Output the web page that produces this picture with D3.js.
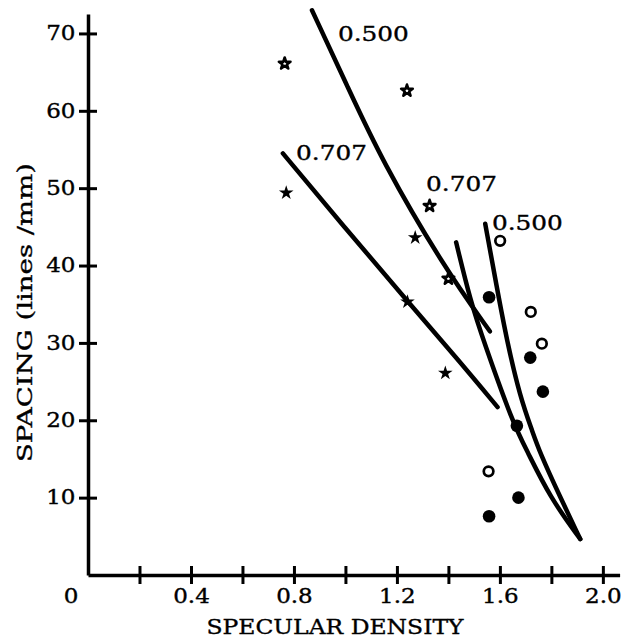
<!DOCTYPE html>
<html>
<head>
<meta charset="utf-8">
<script src="https://cdn.jsdelivr.net/npm/d3@7"></script>
<style>
    body { margin: 0; background: #fff; }
    text { font-family: 'DejaVu Serif', serif; fill: #000; stroke: #000; stroke-width: 0.35px; }
</style>
</head>
<body>
<div id="chart"></div>
<script>
// data (specular density, spacing in lines/mm)
const openStars = [[0.764, 66.1], [1.239, 62.6], [1.327, 47.7], [1.400, 38.3]]
const filledStars = [[0.770, 49.4], [1.271, 43.6], [1.241, 35.3], [1.388, 26.1]]
const openCircles = [[1.601, 43.2], [1.720, 34.0], [1.763, 29.9], [1.556, 13.4]]
const filledCircles = [[1.558, 35.9], [1.718, 28.1], [1.767, 23.7], [1.666, 19.3], [1.672, 10.0], [1.558, 7.6]]

// fitted curves, labelled by their parameter
const curveLong500 = [[0.870, 73.0], [1.010, 63.0], [1.141, 53.6], [1.381, 39.9], [1.561, 31.5]]
const curveLong707 = [[0.757, 54.5], [1.000, 44.8], [1.241, 35.4], [1.446, 27.5], [1.591, 21.7]]
const curveSteep707 = [[1.430, 43.0], [1.485, 35.5], [1.536, 30.3], [1.652, 19.5], [1.705, 16.1], [1.795, 10.0], [1.912, 4.65]]
const curveSteep500 = [[1.543, 45.4], [1.588, 37.2], [1.627, 30.3], [1.679, 22.95], [1.726, 18.6], [1.753, 16.0], [1.835, 10.0], [1.912, 4.65]]

const curveLabels = ['0.500', '0.707', '0.707', '0.500']
const labelAnchors = [[0.971, 69.0], [0.808, 53.65], [1.313, 49.6], [1.569, 44.6]]

const xTicks = [0.2, 0.4, 0.6, 0.8, 1.0, 1.2, 1.4, 1.6, 1.8, 2.0]
const xTickLabels = ['', '0.4', '', '0.8', '', '1.2', '', '1.6', '', '2.0']
const yTicks = [10, 20, 30, 40, 50, 60, 70]

const width = 631, height = 642

const svg = d3.select('#chart')
    .append('svg')
    .attr('width', width)
    .attr('height', height)

const x = d3.scaleLinear().domain([0, 2.065]).range([88, 619.6])
const y = d3.scaleLinear().domain([0, 72.5]).range([575, 14.1])

/** Stretch text horizontally so the wide print face is matched,
 *  then re-anchor it at the start so the stretch stays centred
 *
 * @param {*} sel
 * @param {*} k  stretch factor, or a fixed width when fixed is true
 * @param {*} fixed
 */
function stretch(sel, k, fixed) {
    sel.each(function () {
        let t = d3.select(this)
        let len = this.getComputedTextLength()
        if (len <= 0) return
        let anchor = t.attr('text-anchor') || 'start'
        let x0 = +(t.attr('x') || 0)
        let w = fixed ? k : len * k
        if (anchor === 'middle') x0 -= w / 2
        if (anchor === 'end') x0 -= w
        t.attr('text-anchor', 'start')
            .attr('x', x0)
            .attr('textLength', w)
            .attr('lengthAdjust', 'spacingAndGlyphs')
    })
}

/** Appends both axes with ticks that cross the axis line */
function appendAxes() {

    let gx = svg.append('g')
        .attr('class', 'x-axis')
        .attr('transform', 'translate(0,' + y(0) + ')')
        .call(d3.axisBottom(x)
            .tickValues(xTicks)
            .tickFormat((d, i) => xTickLabels[i])
            .tickSize(9)
            .tickPadding(5.5)
            .tickSizeOuter(0))

    let gy = svg.append('g')
        .attr('class', 'y-axis')
        .attr('transform', 'translate(' + x(0) + ',0)')
        .call(d3.axisLeft(y)
            .tickValues(yTicks)
            .tickSize(9)
            .tickPadding(3.5)
            .tickSizeOuter(0))

    gx.selectAll('.tick line').attr('y1', -9)
    gy.selectAll('.tick line').attr('x1', 9)
    gx.selectAll('.tick text').attr('text-anchor', 'middle')
    gy.selectAll('.tick text').attr('text-anchor', 'end')

    svg.selectAll('.domain').attr('stroke', '#000').attr('stroke-width', 3.5)
    svg.selectAll('.tick line').attr('stroke', '#000').attr('stroke-width', 3)
    svg.selectAll('.tick text')
        .attr('font-family', "'DejaVu Serif', serif")
        .attr('font-size', 19.5)
        .attr('fill', '#000')
    stretch(svg.selectAll('.tick text'), 1.18)

    // origin label sits left of the axis
    svg.append('text')
        .attr('x', x(0) - 17)
        .attr('y', y(0) + 28)
        .attr('text-anchor', 'middle')
        .attr('font-size', 19.5)
        .text('0')
        .call(stretch, 1.18)

    svg.append('text')
        .attr('x', 335)
        .attr('y', 633.5)
        .attr('text-anchor', 'middle')
        .attr('font-size', 20.5)
        .text('SPECULAR DENSITY')
        .call(stretch, 257, true)

    svg.append('g')
        .attr('transform', 'translate(32,312.5) rotate(-90)')
        .append('text')
        .attr('x', 0)
        .attr('y', 0)
        .attr('text-anchor', 'middle')
        .attr('font-size', 20.5)
        .text('SPACING (lines /mm)')
        .call(stretch, 299, true)
}

/** Appends the four fitted curves and their labels */
function appendCurves() {

    let line = d3.line()
        .x(d => x(d[0]))
        .y(d => y(d[1]))
        .curve(d3.curveBasis)

    svg.append('g')
        .attr('class', 'curves')
        .selectAll('path')
        .data([curveLong500, curveLong707, curveSteep707, curveSteep500])
        .enter()
        .append('path')
        .attr('d', line)
        .attr('fill', 'none')
        .attr('stroke', '#000')
        .attr('stroke-width', 4.5)
        .attr('stroke-linecap', 'round')

    svg.append('g')
        .attr('class', 'curve-labels')
        .selectAll('text')
        .data(curveLabels)
        .enter()
        .append('text')
        .attr('x', (d, i) => x(labelAnchors[i][0]))
        .attr('y', (d, i) => y(labelAnchors[i][1]))
        .attr('font-size', 19.5)
        .text(d => d)
        .call(stretch, 1.27)
}

/** Appends the measured points */
function appendPoints() {

    let g = svg.append('g').attr('class', 'points')

    g.selectAll('.fstar')
        .data(filledStars)
        .enter()
        .append('path')
        .attr('class', 'fstar')
        .attr('d', d3.symbol(d3.symbolStar, 66))
        .attr('transform', d => 'translate(' + x(d[0]) + ',' + y(d[1]) + ')')
        .attr('fill', '#000')

    g.selectAll('.ostar')
        .data(openStars)
        .enter()
        .append('path')
        .attr('class', 'ostar')
        .attr('d', d3.symbol(d3.symbolStar, 42))
        .attr('transform', d => 'translate(' + x(d[0]) + ',' + y(d[1]) + ')')
        .attr('fill', '#fff')
        .attr('stroke', '#000')
        .attr('stroke-width', 2.6)
        .attr('stroke-linejoin', 'round')

    g.selectAll('.fcircle')
        .data(filledCircles)
        .enter()
        .append('circle')
        .attr('class', 'fcircle')
        .attr('cx', d => x(d[0]))
        .attr('cy', d => y(d[1]))
        .attr('r', 6.3)
        .attr('fill', '#000')

    g.selectAll('.ocircle')
        .data(openCircles)
        .enter()
        .append('circle')
        .attr('class', 'ocircle')
        .attr('cx', d => x(d[0]))
        .attr('cy', d => y(d[1]))
        .attr('r', 4.8)
        .attr('fill', '#fff')
        .attr('stroke', '#000')
        .attr('stroke-width', 2.7)
}

appendAxes()
appendCurves()
appendPoints()
</script>
</body>
</html>
